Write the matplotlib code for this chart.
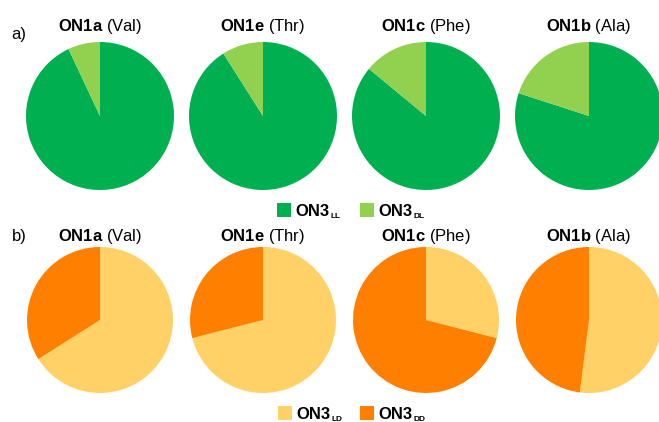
import matplotlib
matplotlib.use("Agg")
import matplotlib.pyplot as plt
from matplotlib.patches import Rectangle

plt.rcParams['font.family'] = ['Liberation Sans', 'DejaVu Sans']
plt.rcParams['mathtext.fontset'] = 'custom'
plt.rcParams['mathtext.rm'] = 'Liberation Sans'
plt.rcParams['mathtext.bf'] = 'Liberation Sans:bold'
plt.rcParams['mathtext.it'] = 'Liberation Sans:italic'

compounds = ["ON1a", "ON1e", "ON1c", "ON1b"]
residues = ["Val", "Thr", "Phe", "Ala"]
top_LL = [93, 91, 86, 80]
top_DL = [7, 9, 14, 20]
bot_LD = [66, 71, 29, 52]
bot_DD = [34, 29, 71, 48]

c_LL, c_DL = "#00B050", "#92D050"
c_LD, c_DD = "#FFD166", "#FF8000"

W, H = 659, 422
fig = plt.figure(figsize=(W / 100, H / 100), dpi=100)

cxs = [100, 263, 426, 589]
rows = [
    (116, 74, top_LL, top_DL, (c_LL, c_DL), 27),
    (320, 73, bot_LD, bot_DD, (c_LD, c_DD), 236),
]

for cy, r, s1, s2, cols, ty in rows:
    for i, cx in enumerate(cxs):
        ax = fig.add_axes([(cx - r) / W, 1 - (cy + r) / H, 2 * r / W, 2 * r / H])
        ax.pie([s1[i], s2[i]], colors=cols, startangle=90, counterclock=False,
               wedgeprops=dict(linewidth=0))
        ax.set_xlim(-1, 1)
        ax.set_ylim(-1, 1)
        ax.axis("off")
        fig.text(cx / W, 1 - ty / H, r"$\bf{" + compounds[i] + "}$ (" + residues[i] + ")",
                 ha="center", va="center", fontsize=12)

fig.text(11 / W, 1 - 34 / H, "a)", ha="left", va="center", fontsize=12)
fig.text(12 / W, 1 - 237 / H, "b)", ha="left", va="center", fontsize=12)

legends = [
    (210, [(277, c_LL, "LL"), (360, c_DL, "DL")]),
    (413, [(278, c_LD, "LD"), (360, c_DD, "DD")]),
]
renderer = fig.canvas.get_renderer()
for ly, items in legends:
    for x, col, sub in items:
        fig.patches.append(Rectangle((x / W, 1 - (ly + 7) / H), 14 / W, 14 / H,
                                     transform=fig.transFigure, color=col, lw=0))
        t = fig.text((x + 18) / W, 1 - (ly + 6) / H, "ON3", fontweight="bold",
                     ha="left", va="baseline", fontsize=12)
        bb = t.get_window_extent(renderer)
        fig.text(bb.x1 / W + 1 / W, 1 - (ly + 8) / H, sub, fontweight="bold",
                 ha="left", va="baseline", fontsize=6)

fig.savefig("out.png", dpi=100)
